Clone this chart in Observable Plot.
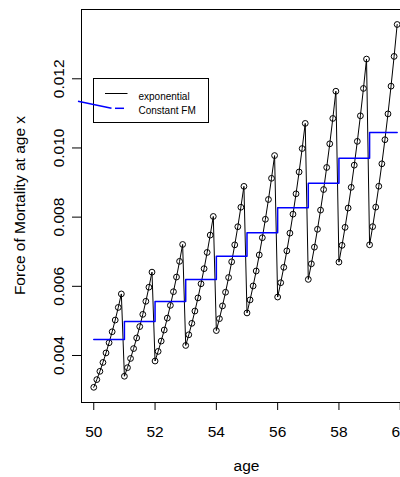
<!DOCTYPE html>
<html><head><meta charset="utf-8">
<script src="https://cdn.jsdelivr.net/npm/d3@7"></script>
<script src="https://cdn.jsdelivr.net/npm/@observablehq/plot@0.6"></script>
<style>
html,body{margin:0;padding:0;background:#fff;overflow:hidden;}
#chart{width:400px;height:477px;overflow:hidden;position:relative;}
#chart svg{max-width:none !important;width:413px;height:477px;display:block;}
</style></head><body><div id="chart"></div>
<script>
// Integer ages (start of each year of age)
const years = [50, 51, 52, 53, 54, 55, 56, 57, 58, 59];
// Fractional steps within a year
const steps = [0, 0.1, 0.2, 0.3, 0.4, 0.5, 0.6, 0.7, 0.8, 0.9];
// Constant force of mortality within each year (one per year)
const constantFM = [0.004463, 0.004983, 0.005561, 0.006197, 0.006871, 0.007547, 0.008270, 0.008981, 0.009704, 0.010447];
// Exponential force of mortality at ages 50.0, 50.1, ..., 59.9
const exponential = [
  0.003080, 0.003303, 0.003542, 0.003799, 0.004074, 0.004369, 0.004686, 0.005025, 0.005389, 0.005780,
  0.003400, 0.003648, 0.003914, 0.004200, 0.004507, 0.004836, 0.005189, 0.005567, 0.005974, 0.006410,
  0.003840, 0.004118, 0.004417, 0.004737, 0.005081, 0.005449, 0.005844, 0.006268, 0.006722, 0.007210,
  0.004290, 0.004599, 0.004930, 0.005285, 0.005665, 0.006073, 0.006510, 0.006979, 0.007481, 0.008020,
  0.004720, 0.005064, 0.005433, 0.005829, 0.006254, 0.006709, 0.007198, 0.007723, 0.008286, 0.008890,
  0.005230, 0.005607, 0.006011, 0.006443, 0.006907, 0.007405, 0.007938, 0.008510, 0.009123, 0.009780,
  0.005690, 0.006104, 0.006549, 0.007025, 0.007537, 0.008086, 0.008674, 0.009306, 0.009983, 0.010710,
  0.006200, 0.006650, 0.007132, 0.007649, 0.008203, 0.008798, 0.009436, 0.010120, 0.010853, 0.011640,
  0.006700, 0.007185, 0.007705, 0.008263, 0.008862, 0.009503, 0.010191, 0.010929, 0.011721, 0.012570,
  0.007200, 0.007725, 0.008289, 0.008893, 0.009542, 0.010238, 0.010985, 0.011787, 0.012647, 0.013570
];
const xTicks = [50, 52, 54, 56, 58, 60];
const yTicks = [0.004, 0.006, 0.008, 0.010, 0.012];
const xTitle = "age";
const yTitle = "Force of Mortality at age x";
const legendLabels = ["exponential", "Constant FM"];

const expData = [];
const fmData = [];
years.forEach((yr, k) => {
  steps.forEach((s, j) => {
    const age = Math.round((yr + s) * 10) / 10;
    expData.push({age, value: exponential[k * 10 + j]});
    fmData.push({age, value: constantFM[k]});
  });
});

const font = "'Liberation Sans', Arial, Helvetica, sans-serif";
const chart = Plot.plot({
  width: 413, height: 477,
  marginLeft: 81, marginRight: 1, marginTop: 9, marginBottom: 75,
  style: {fontFamily: font, fontSize: "15.5px", color: "#000", background: "#fff", maxWidth: "none"},
  x: {domain: [49.6, 60.4]},
  y: {domain: [0.002641, 0.014003]},
  marks: [
    Plot.axisX({ticks: xTicks, tickSize: 8, tickPadding: 15, label: null, tickFormat: d => String(d)}),
    Plot.axisY({ticks: yTicks, tickSize: 9, tickPadding: 9, tickRotate: -90, textAnchor: "middle", lineAnchor: "bottom", tickFormat: d3.format(".3f"), label: null}),
    Plot.line(expData, {x: "age", y: "value", stroke: "#000", strokeWidth: 1}),
    Plot.dot(expData, {x: "age", y: "value", r: 2.9, stroke: "#000", strokeWidth: 1, fill: "none"}),
    Plot.line(fmData, {x: "age", y: "value", curve: "step-after", stroke: "#0000ff", strokeWidth: 1.5}),
    Plot.frame({stroke: "#000", strokeWidth: 1})
  ]
});
document.getElementById("chart").appendChild(chart);

const svg = d3.select(chart);
// Axis titles
svg.append("text").attr("x", 246.5).attr("y", 471).attr("text-anchor", "middle")
  .style("font-family", font).style("font-size", "15.5px").attr("fill", "#000").text(xTitle);
svg.append("text").attr("transform", "translate(25,205.5) rotate(-90)").attr("text-anchor", "middle")
  .style("font-family", font).style("font-size", "15.5px").attr("fill", "#000").text(yTitle);

// Legend
const lg = svg.append("g").attr("text-anchor", "start");
lg.append("rect").attr("x", 93.5).attr("y", 78.5).attr("width", 115).attr("height", 44)
  .attr("fill", "#fff").attr("stroke", "#000").attr("stroke-width", 1);
lg.append("line").attr("x1", 105).attr("x2", 127.5).attr("y1", 93.5).attr("y2", 93.5)
  .attr("stroke", "#000").attr("stroke-width", 1);
lg.append("polyline").attr("points", "78,101.3 111.5,108.3").attr("fill", "none")
  .attr("stroke", "#0000ff").attr("stroke-width", 1.5);
lg.append("line").attr("x1", 115).attr("x2", 124).attr("y1", 108.3).attr("y2", 108.3)
  .attr("stroke", "#0000ff").attr("stroke-width", 1.5);
lg.append("text").attr("x", 138.5).attr("y", 99.8).attr("text-anchor", "start")
  .style("font-family", font).style("font-size", "10px").attr("fill", "#000").text(legendLabels[0]);
lg.append("text").attr("x", 138.5).attr("y", 113.5).attr("text-anchor", "start")
  .style("font-family", font).style("font-size", "10px").attr("fill", "#000").text(legendLabels[1]);
</script>
</body></html>
